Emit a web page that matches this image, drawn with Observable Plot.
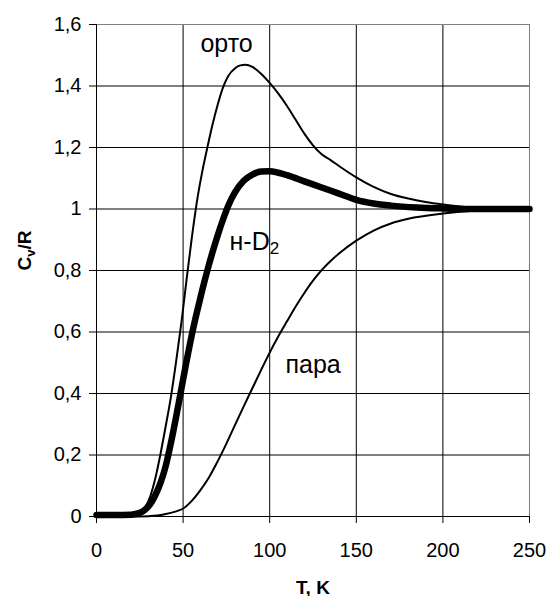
<!DOCTYPE html>
<html><head><meta charset="utf-8">
<script src="https://cdn.jsdelivr.net/npm/d3@7"></script>
<script src="https://cdn.jsdelivr.net/npm/@observablehq/plot@0.6"></script>
<style>html,body{margin:0;padding:0;background:#fff}#chart svg{display:block}</style>
</head><body><div id="chart"></div>
<script>
// ortho-D2 (thin)
const orthoT = [0, 10, 20, 25, 28, 31, 34, 37, 40, 43, 46, 49, 52, 55, 58, 61, 64, 67, 70, 73, 76, 80, 83, 86, 90, 95, 100, 105, 110, 115, 120, 125, 130, 135, 140, 150, 160, 170, 180, 190, 200, 220, 250];
const orthoC = [0.005, 0.005, 0.007, 0.014, 0.03, 0.065, 0.125, 0.205, 0.295, 0.39, 0.505, 0.63, 0.77, 0.905, 1.025, 1.12, 1.2, 1.275, 1.34, 1.395, 1.432, 1.458, 1.467, 1.469, 1.462, 1.44, 1.41, 1.375, 1.335, 1.29, 1.245, 1.207, 1.178, 1.16, 1.14, 1.103, 1.072, 1.049, 1.034, 1.023, 1.015, 1.004, 1.0];
// normal D2 (thick)
const normT = [0, 10, 20, 25, 28, 31, 34, 37, 40, 43, 46, 49, 52, 55, 58, 61, 64, 67, 70, 73, 76, 80, 85, 90, 95, 100, 105, 110, 120, 130, 140, 150, 160, 170, 185, 200, 220, 250];
const normC = [0.005, 0.005, 0.006, 0.012, 0.022, 0.04, 0.07, 0.11, 0.165, 0.24, 0.325, 0.415, 0.505, 0.59, 0.665, 0.735, 0.80, 0.86, 0.915, 0.965, 1.01, 1.055, 1.092, 1.112, 1.122, 1.123, 1.118, 1.11, 1.09, 1.07, 1.05, 1.03, 1.018, 1.011, 1.005, 1.002, 1.0, 1.0];
// para-D2 (thin)
const paraT = [0, 20, 30, 35, 40, 45, 50, 55, 60, 65, 70, 75, 80, 85, 90, 95, 100, 105, 110, 115, 120, 125, 130, 135, 140, 150, 160, 170, 180, 200, 220, 250];
const paraC = [0, 0, 0.001, 0.003, 0.008, 0.015, 0.026, 0.051, 0.086, 0.128, 0.18, 0.237, 0.298, 0.358, 0.417, 0.476, 0.533, 0.586, 0.635, 0.683, 0.727, 0.767, 0.801, 0.830, 0.855, 0.897, 0.93, 0.953, 0.968, 0.985, 0.995, 1.0];

const xTicks = [0, 50, 100, 150, 200, 250];
const xTickLabels = ["0", "50", "100", "150", "200", "250"];
const yTicks = [0, 0.2, 0.4, 0.6, 0.8, 1.0, 1.2, 1.4, 1.6];
const yTickLabels = ["0", "0,2", "0,4", "0,6", "0,8", "1", "1,2", "1,4", "1,6"];

const seriesNames = ["орто", "н-D2", "пара"];
const labelT = [75.1, 76.8, 109.1];
const labelC = [1.51, 0.867, 0.468];
const labelAnchor = ["middle", "start", "start"];

const toRows = (T, C) => T.map((t, i) => ({T: t, C: C[i]}));
const ortho = toRows(orthoT, orthoC);
const norm = toRows(normT, normC);
const para = toRows(paraT, paraC);
const labels = seriesNames.map((s, i) => ({s, T: labelT[i], C: labelC[i], a: labelAnchor[i]}));

const font = "Liberation Sans, Arial, Helvetica, sans-serif";

const plot = Plot.plot({
  width: 547, height: 596,
  marginLeft: 96, marginRight: 18, marginTop: 24, marginBottom: 80,
  style: {fontFamily: font, fontSize: "20px", color: "#000", background: "#fff", overflow: "visible"},
  x: {domain: [0, 250]},
  y: {domain: [0, 1.6]},
  marks: [
    Plot.gridX(xTicks, {stroke: "#000", strokeOpacity: 1}),
    Plot.gridY(yTicks, {stroke: "#000", strokeOpacity: 1}),
    Plot.frame({stroke: "#808080"}),
    Plot.ruleX([0], {stroke: "#000"}),
    Plot.ruleY([0], {stroke: "#000"}),
    Plot.axisX(xTicks, {tickFormat: (d, i) => xTickLabels[i], tickSize: 7, tickPadding: 19, label: null, fontSize: 20}),
    Plot.axisY(yTicks, {tickFormat: (d, i) => yTickLabels[i], tickSize: 7, tickPadding: 8, label: null, fontSize: 20}),
    Plot.line(para, {x: "T", y: "C", stroke: "#000", strokeWidth: 2, curve: "monotone-x"}),
    Plot.line(ortho, {x: "T", y: "C", stroke: "#000", strokeWidth: 2, curve: "monotone-x"}),
    Plot.line(norm, {x: "T", y: "C", stroke: "#000", strokeWidth: 6.5, curve: "monotone-x"}),
    Plot.text(labels.filter(d => d.a === "middle"), {x: "T", y: "C", text: "s", textAnchor: "middle", lineAnchor: "bottom", fontSize: 25, fill: "#000"}),
    Plot.text(labels.filter(d => d.a === "start"), {x: "T", y: "C", text: "s", textAnchor: "start", lineAnchor: "bottom", fontSize: 25, fill: "#000"}),
    Plot.text(["T, K"], {frameAnchor: "bottom", dy: 77, lineAnchor: "bottom", fontSize: 19, fontWeight: "bold", fill: "#000"}),
    Plot.text(["Cv/R"], {frameAnchor: "left", dx: -72, rotate: -90, lineAnchor: "middle", fontSize: 19, fontWeight: "bold", fill: "#000"})
  ]
});

d3.select(plot).selectAll("text").each(function () {
  const t = this.textContent;
  if (t === "н-D2") {
    this.textContent = "н-D";
    d3.select(this).append("tspan").attr("dy", 4).attr("font-size", 17).text("2");
  } else if (t === "Cv/R") {
    this.textContent = "C";
    d3.select(this).append("tspan").attr("dy", 4).attr("font-size", 13).text("v");
    d3.select(this).append("tspan").attr("dy", -4).text("/R");
  }
});

document.getElementById("chart").appendChild(plot);
</script>
</body></html>
